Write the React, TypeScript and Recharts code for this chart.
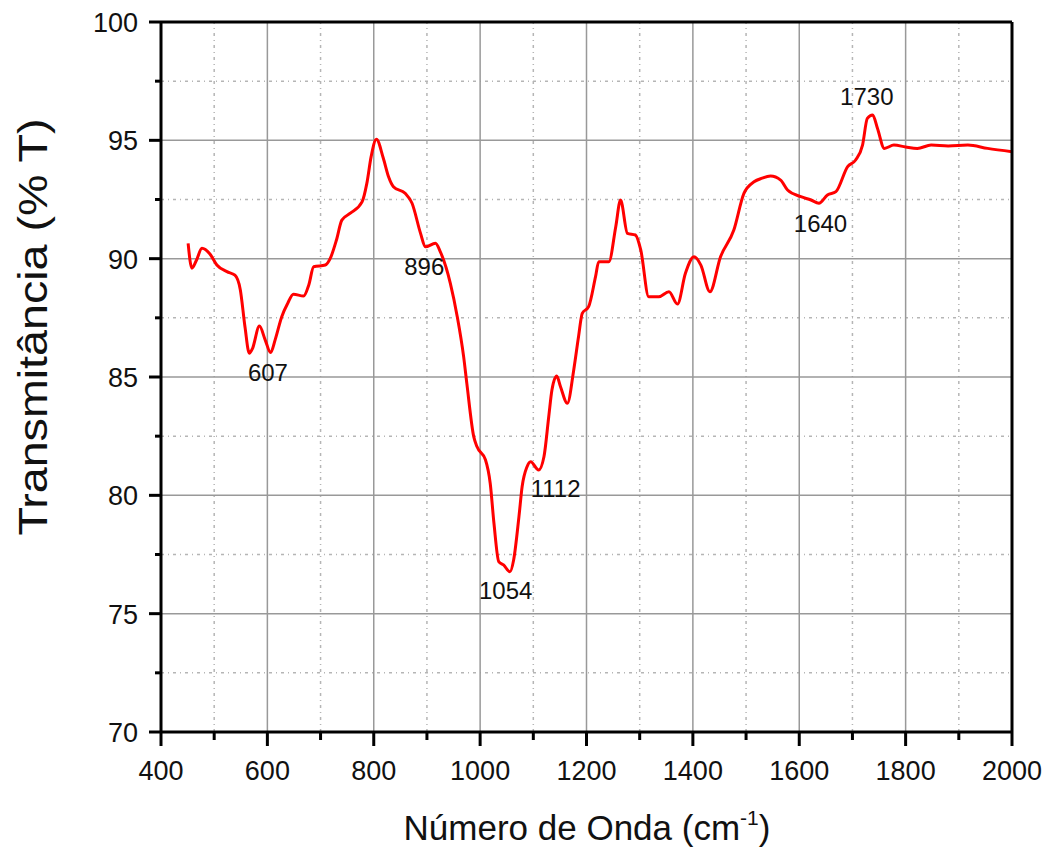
import React from 'react'
import { LineChart, Line, XAxis, YAxis, ReferenceLine, ReferenceDot } from 'recharts'

// espectro FTIR
const wavenumber = [
  451, 458, 466, 477, 492, 505, 524, 539, 549, 558, 566, 572, 585, 596, 606, 615, 627, 638, 649, 668,
  678, 687, 709, 718, 730, 740, 756, 778, 787, 795, 805, 818, 828, 837, 859, 872, 888, 897, 916, 925, 944,
  957, 969, 975, 988, 994, 1010, 1019, 1026, 1035, 1044, 1056, 1063, 1073, 1079, 1088, 1095, 1110, 1120, 1129, 1135,
  1144, 1151, 1164, 1176, 1185, 1192, 1204, 1217, 1223, 1242, 1255, 1264, 1277, 1292, 1302, 1317, 1336, 1355, 1371, 1386,
  1402, 1415, 1432, 1452, 1477, 1496, 1515, 1530, 1546, 1565, 1578, 1603, 1622, 1637, 1653, 1669, 1691, 1706, 1719, 1728, 1738,
  1747, 1760, 1778, 1800, 1822, 1848, 1880, 1917, 1954, 2000,
]
const transmittance = [
  90.65, 89.6, 89.9, 90.44, 90.2, 89.73, 89.45, 89.3, 88.7, 87.1, 86.0, 86.2, 87.15, 86.56, 86.03, 86.6, 87.55, 88.1, 88.5, 88.42,
  88.9, 89.66, 89.73, 90.0, 90.8, 91.63, 91.92, 92.4, 93.18, 94.3, 95.05, 94.24, 93.45, 93.04, 92.76, 92.34, 91.07, 90.5, 90.65, 90.3, 88.96,
  87.55, 85.86, 84.73, 82.48, 82.06, 81.5, 80.5, 78.82, 77.2, 77.06, 76.77, 77.27, 79.1, 80.37, 81.2, 81.42, 81.07, 81.63, 83.32, 84.45,
  85.04, 84.6, 83.89, 85.3, 86.7, 87.69, 87.97, 89.24, 89.87, 89.87, 91.35, 92.48, 91.07, 91.0, 90.37, 88.39, 88.39, 88.6, 88.08, 89.38,
  90.08, 89.73, 88.6, 90.08, 91.21, 92.76, 93.25, 93.4, 93.49, 93.32, 92.9, 92.62, 92.48, 92.34, 92.69, 92.83, 93.89, 94.17, 94.8, 95.93, 96.07,
  95.51, 94.66, 94.8, 94.72, 94.66, 94.8, 94.76, 94.8, 94.66, 94.52,
]

const xTicks = [400, 500, 600, 700, 800, 900, 1000, 1100, 1200, 1300, 1400, 1500, 1600, 1700, 1800, 1900, 2000]
const yTicks = [70, 72.5, 75, 77.5, 80, 82.5, 85, 87.5, 90, 92.5, 95, 97.5, 100]

// rótulos dos picos (posição do texto em coordenadas dos dados)
const peakLabels = ['607', '896', '1054', '1112', '1640', '1730']
const peakLabelX = [601, 895, 1048, 1142, 1640, 1727]
const peakLabelY = [85.2, 89.69, 75.96, 80.27, 91.5, 96.87]

const data = wavenumber.map((w, i) => ({ w, t: transmittance[i] }))
const font = '"Liberation Sans", Arial, sans-serif'

const XTick = (props: any) => {
  const { x, y, payload } = props
  const major = payload.value % 200 === 0
  return (
    <g>
      <line x1={x} y1={y} x2={x} y2={y + (major ? 14 : 8)} stroke="#000" strokeWidth={3} />
      {major && (
        <text x={x} y={y + 48} textAnchor="middle" fontSize={27} fontFamily={font} fill="#111">
          {payload.value}
        </text>
      )}
    </g>
  )
}

const YTick = (props: any) => {
  const { x, y, payload } = props
  const major = payload.value % 5 === 0
  return (
    <g>
      <line x1={x - (major ? 12 : 6)} y1={y} x2={x} y2={y} stroke="#000" strokeWidth={3} />
      {major && (
        <text x={x - 23} y={y + 10} textAnchor="end" fontSize={27} fontFamily={font} fill="#111">
          {payload.value}
        </text>
      )}
    </g>
  )
}

const XTitle = () => (
  <text x={579} y={832} textAnchor="middle" fontSize={35} fontFamily={font} fill="#111">
    Número de Onda (cm
    <tspan fontSize={21} dy={-15}>-1</tspan>
    <tspan dy={15}>)</tspan>
  </text>
)

const YTitle = () => (
  <text
    x={39}
    y={319}
    transform="rotate(-90 39 319)"
    textAnchor="middle"
    fontSize={40}
    textLength={417}
    lengthAdjust="spacingAndGlyphs"
    fontFamily={font}
    fill="#111"
  >
    Transmitância (% T)
  </text>
)

export default function App() {
  const majorX = xTicks.filter((v) => v % 200 === 0 && v > 400 && v < 2000)
  const minorX = xTicks.filter((v) => v % 200 !== 0)
  const majorY = yTicks.filter((v) => v % 5 === 0 && v > 70 && v < 100)
  const minorY = yTicks.filter((v) => v % 5 !== 0)

  return (
    <LineChart width={1044} height={842} data={data} margin={{ top: 14, right: 40, left: 0, bottom: 0 }}>
      <XAxis
        dataKey="w"
        type="number"
        domain={[400, 2000]}
        ticks={xTicks}
        interval={0}
        tickSize={0}
        tickMargin={0}
        tickLine={false}
        tick={<XTick />}
        height={118}
        axisLine={{ stroke: '#000', strokeWidth: 3 }}
        label={<XTitle />}
      />
      <YAxis
        type="number"
        domain={[70, 100]}
        ticks={yTicks}
        interval={0}
        tickSize={0}
        tickMargin={0}
        tickLine={false}
        tick={<YTick />}
        width={153}
        axisLine={{ stroke: '#000', strokeWidth: 3 }}
        label={<YTitle />}
      />
      {minorX.map((v) => (
        <ReferenceLine key={'mx' + v} x={v} stroke="#b5b5b5" strokeWidth={1.5} strokeDasharray="3 4 1 4" />
      ))}
      {minorY.map((v) => (
        <ReferenceLine key={'my' + v} y={v} stroke="#b5b5b5" strokeWidth={1.5} strokeDasharray="3 4 1 4" />
      ))}
      {majorX.map((v) => (
        <ReferenceLine key={'gx' + v} x={v} stroke="#999" strokeWidth={1.5} />
      ))}
      {majorY.map((v) => (
        <ReferenceLine key={'gy' + v} y={v} stroke="#999" strokeWidth={1.5} />
      ))}
      <Line
        dataKey="t"
        type="monotone"
        stroke="#ff0000"
        strokeWidth={3}
        dot={false}
        isAnimationActive={false}
      />
      <ReferenceLine y={100} stroke="#000" strokeWidth={3} />
      <ReferenceLine x={2000} stroke="#000" strokeWidth={3} />
      {peakLabels.map((t, i) => (
        <ReferenceDot
          key={t}
          x={peakLabelX[i]}
          y={peakLabelY[i]}
          r={1}
          fill="none"
          stroke="none"
          label={{ value: t, position: 'center', fontSize: 24, fill: '#111', fontFamily: font }}
        />
      ))}
    </LineChart>
  )
}
